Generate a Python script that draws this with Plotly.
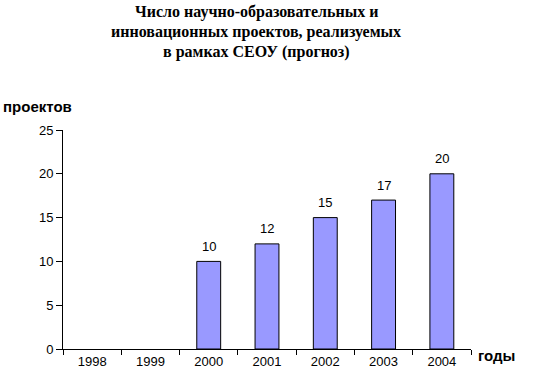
import plotly.graph_objects as go

years = ["1998", "1999", "2000", "2001", "2002", "2003", "2004"]
projects = [None, None, 10, 12, 15, 17, 20]
y_ticks = [0, 5, 10, 15, 20, 25]
title_lines = ["Число научно-образовательных и",
               "инновационных проектов, реализуемых",
               "в рамках СЕОУ (прогноз)"]

W, H = 538, 381
L, R_PX, T, B_PX = 63, 471, 130, 349
PW, PH = R_PX - L, B_PX - T

def px_x(x):
    return (x - L) / PW

def px_y(y):
    return (B_PX - y) / PH

fig = go.Figure()
fig.add_trace(go.Bar(
    x=years, y=projects,
    marker=dict(color="#9999FF", line=dict(color="black", width=1)),
    width=0.41,
))

# value labels above bars (x given as category index)
for i, v in enumerate(projects):
    if v is None:
        continue
    fig.add_annotation(x=i, y=v, text=str(v), xref="x", yref="y",
                       showarrow=False, yanchor="middle", yshift=15,
                       font=dict(family="Liberation Sans, Arial", size=13, color="black"))

for line, ypx in zip(title_lines, [12, 32, 52]):
    fig.add_annotation(
        text="<b>%s</b>" % line, xref="paper", yref="paper",
        x=px_x(256), y=px_y(ypx),
        xanchor="center", yanchor="middle", showarrow=False,
        font=dict(family="Liberation Serif, Times New Roman", size=16, color="black"),
    )

fig.add_annotation(text="<b>проектов</b>", xref="paper", yref="paper",
                   x=px_x(1), y=px_y(106),
                   xanchor="left", yanchor="middle", showarrow=False,
                   font=dict(family="Liberation Sans, Arial", size=15, color="black"))
fig.add_annotation(text="<b>годы</b>", xref="paper", yref="paper",
                   x=px_x(476), y=px_y(355),
                   xanchor="left", yanchor="middle", showarrow=False,
                   font=dict(family="Liberation Sans, Arial", size=15, color="black"))

fig.update_layout(
    width=W, height=H,
    margin=dict(l=L, r=W - R_PX, t=T, b=H - B_PX, autoexpand=False),
    paper_bgcolor="white", plot_bgcolor="white",
    showlegend=False,
    font=dict(family="Liberation Sans, Arial", size=13, color="black"),
)
fig.update_xaxes(
    type="category", categoryorder="array", categoryarray=years,
    range=[-0.5, len(years) - 0.5],
    tickson="boundaries", ticks="outside", ticklen=5,
    tickcolor="black", showline=True, linecolor="black", linewidth=1,
    showgrid=False, tickfont=dict(size=13),
)
fig.update_yaxes(
    range=[0, 25], tickvals=y_ticks, ticks="outside", ticklen=6,
    tickcolor="black", showline=True, linecolor="black", linewidth=1,
    showgrid=False, zeroline=False, tickfont=dict(size=13),
)

fig.write_html("out.html", config={"displayModeBar": False},
               post_script="document.body.style.margin='0';")
